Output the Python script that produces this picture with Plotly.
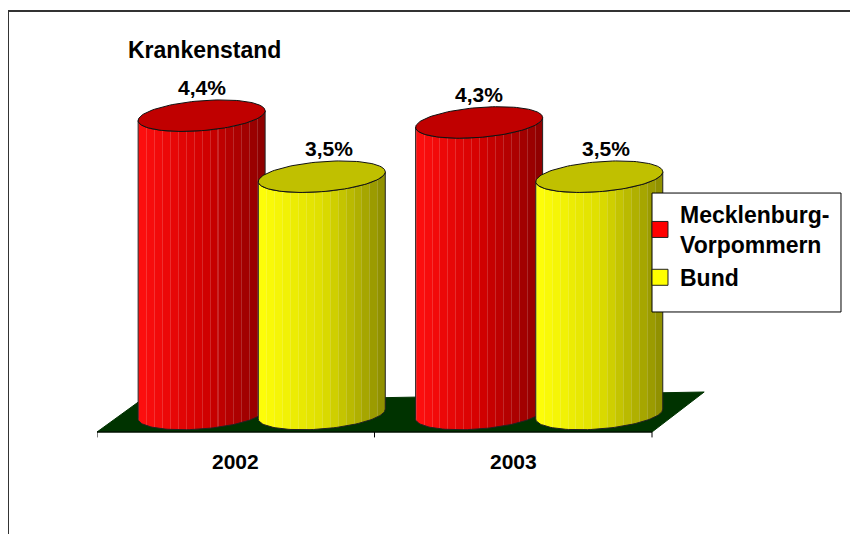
import numpy as np
import plotly.graph_objects as go

# ---------------- data ----------------
categories = ['2002', '2003']
mv_values = [4.4, 4.3]
bund_values = [3.5, 3.5]
series_names = ['Mecklenburg-<br>Vorpommern', 'Bund']
chart_title = 'Krankenstand'

# ---------------- style / geometry (axis units) ----------------
FONT = 'Liberation Sans, Arial, sans-serif'
X_MIN, X_MAX = -0.5, 1.709
Y_MIN, Y_MAX = -0.3835, 5.811
FLOOR_FRONT = -0.2655
FLOOR_BACK_L = (-0.351, 0.177)
FLOOR_BACK_R = (1.688, 0.3245)
RADIUS = 0.2288
ELL_B = 0.221
SHEAR = 0.072
OFFSETS = [-0.123, 0.31]
LABEL_XSHIFT = [0, 7]

BODY_COLORS = [((255, 15, 15), (212, 0, 0), (140, 0, 0)),
               ((255, 255, 10), (222, 222, 0), (140, 140, 0))]
TOP_COLORS = ['#C00000', '#C0C000']
LEGEND_COLORS = ['#FF0000', '#FFFF00']


def rgb(c):
    return 'rgb(%d,%d,%d)' % tuple(int(round(v)) for v in c)


def lerp(a, b, t):
    return tuple(a[i] + (b[i] - a[i]) * t for i in range(3))


def facet_scale(left, mid, right, n=16, stripe=0.008):
    scale = []
    for i in range(n):
        p0, p1 = i / n, (i + 1) / n
        t = (i + 0.5) / n
        base = lerp(left, mid, t / 0.5) if t < 0.5 else lerp(mid, right, (t - 0.5) / 0.5)
        light = lerp(base, (255, 255, 255), 0.16)
        scale += [[p0, rgb(light)], [p0 + stripe, rgb(light)],
                  [p0 + stripe, rgb(base)], [p1, rgb(base)]]
    return scale


def ellipse(cx, base, t):
    return (cx + RADIUS * np.cos(t), base + ELL_B * np.sin(t) + SHEAR * np.cos(t))


fig = go.Figure()

# floor
fig.add_trace(go.Scatter(
    x=[X_MIN, 1.5, FLOOR_BACK_R[0], FLOOR_BACK_L[0], X_MIN],
    y=[FLOOR_FRONT, FLOOR_FRONT, FLOOR_BACK_R[1], FLOOR_BACK_L[1], FLOOR_FRONT],
    mode='lines', fill='toself', fillcolor='#003300',
    line=dict(color='#003300', width=1), hoverinfo='skip', showlegend=False))

all_series = [mv_values, bund_values]
front = np.linspace(np.pi, 2 * np.pi, 60)
full = np.linspace(0, 2 * np.pi, 121)

for ci, cat in enumerate(categories):
    for si, vals in enumerate(all_series):
        cx = ci + OFFSETS[si]
        v = vals[ci]
        # body
        tx, ty = ellipse(cx, v, front)
        bx, by = ellipse(cx, 0.0, front[::-1])
        xs = np.concatenate([tx, bx, tx[:1]])
        ys = np.concatenate([ty, by, ty[:1]])
        left, mid, right = BODY_COLORS[si]
        fig.add_trace(go.Scatter(
            x=xs, y=ys, mode='lines', fill='toself',
            fillgradient=dict(type='horizontal', colorscale=facet_scale(left, mid, right)),
            line=dict(color='#222222', width=1), hoverinfo='skip', showlegend=False))
        # top
        ex, ey = ellipse(cx, v, full)
        fig.add_trace(go.Scatter(
            x=ex, y=ey, mode='lines', fill='toself', fillcolor=TOP_COLORS[si],
            line=dict(color='#111111', width=1), hoverinfo='skip', showlegend=False))
        # value label
        fig.add_annotation(x=cx, y=v, text=('%.1f' % v).replace('.', ',') + '%',
                           showarrow=False, yshift=28, xshift=LABEL_XSHIFT[si],
                           font=dict(family=FONT, size=21, color='black', weight='bold'))
    # category label
    fig.add_annotation(x=ci, y=FLOOR_FRONT, text=cat, showarrow=False, yshift=-29,
                       yanchor='middle',
                       font=dict(family=FONT, size=21, color='black', weight='bold'))

# legend entries
for si, name in enumerate(series_names):
    fig.add_trace(go.Scatter(
        x=[None], y=[None], mode='markers', name=name,
        marker=dict(symbol='square', size=16, color=LEGEND_COLORS[si],
                    line=dict(color='#202020', width=1))))

# axis line + ticks
fig.add_shape(type='line', x0=X_MIN, x1=1.5, y0=FLOOR_FRONT, y1=FLOOR_FRONT,
              line=dict(color='black', width=1))
for tv in [-0.5, 0.5, 1.5]:
    fig.add_shape(type='line', x0=tv, x1=tv, y0=FLOOR_FRONT, y1=FLOOR_FRONT - 0.08,
                  line=dict(color='black', width=1))

# legend box (drawn behind the legend texts)
fig.add_shape(type='rect', xref='paper', yref='paper', x0=0.9054, x1=1.2137,
              y0=0.3048, y1=0.588, fillcolor='white', line=dict(color='black', width=1),
              layer='above')

# outer frame (top and left border)
fig.add_shape(type='line', xref='paper', yref='paper', x0=-0.1452, x1=1.3,
              y0=1.0214, y1=1.0214, line=dict(color='#333333', width=2))
fig.add_shape(type='line', xref='paper', yref='paper', x0=-0.1452, x1=-0.1452,
              y0=1.0214, y1=-0.4, line=dict(color='#333333', width=2))

# title
fig.add_annotation(xref='paper', yref='paper', x=0.0473, y=0.9286, xanchor='left',
                   yanchor='middle', text=chart_title, showarrow=False,
                   font=dict(family=FONT, size=23, color='black', weight='bold'))

fig.update_layout(
    width=850, height=526,
    margin=dict(l=89, r=148, t=12, b=94),
    paper_bgcolor='white', plot_bgcolor='white',
    xaxis=dict(range=[X_MIN, X_MAX], visible=False, fixedrange=True),
    yaxis=dict(range=[Y_MIN, Y_MAX], visible=False, fixedrange=True),
    hovermode=False,
    showlegend=True,
    legend=dict(x=0.8858, y=0.588, xanchor='left', yanchor='top',
                bgcolor='rgba(0,0,0,0)', borderwidth=0,
                font=dict(family=FONT, size=23, color='black', weight='bold')),
)

fig.write_html('out.html')
